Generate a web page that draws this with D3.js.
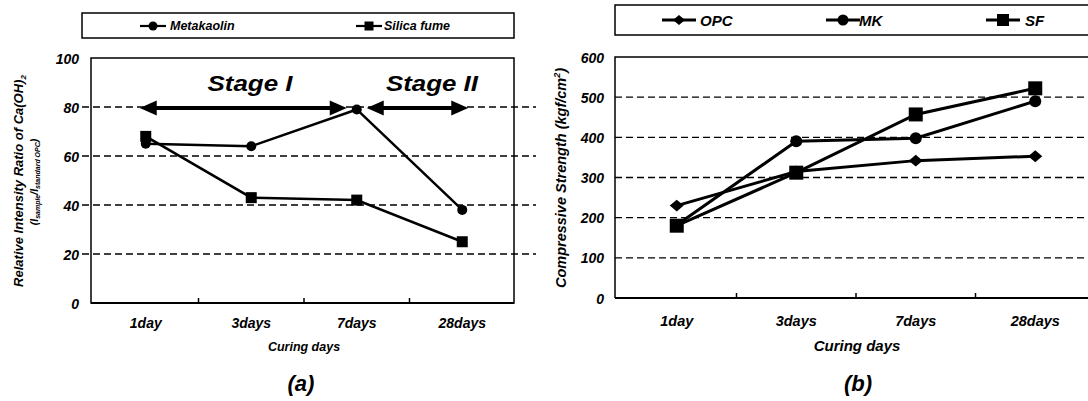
<!DOCTYPE html>
<html>
<head>
<meta charset="utf-8">
<script src="https://cdn.jsdelivr.net/npm/d3@7"></script>
<style>
  html, body { margin: 0; padding: 0; background: #fff; overflow: hidden; }
  svg { display: block; }
  svg text { font-family: "Liberation Sans", Arial, sans-serif; font-weight: bold; font-style: italic; fill: #000; }
</style>
</head>
<body>
<svg id="chart" width="1088" height="401"></svg>
<script>
// ---------- data ----------
const categories = ["1day", "3days", "7days", "28days"];
// panel (a): relative intensity ratio of Ca(OH)2
const metakaolin = [65, 64, 79, 38];
const silicaFume = [68, 43, 42, 25];
const yTicksA = [0, 20, 40, 60, 80, 100];
const gridA = [20, 40, 60, 80];
// panel (b): compressive strength
const opc = [230, 315, 342, 353];
const mk = [182, 390, 398, 490];
const sf = [180, 312, 457, 522];
const yTicksB = [0, 100, 200, 300, 400, 500, 600];
const gridB = [100, 200, 300, 400, 500];
// annotations (panel a)
const stages = [
  { label: "Stage I", from: "1day", to: "7days", y: 80 },
  { label: "Stage II", from: "7days", to: "28days", y: 80 }
];

const svg = d3.select("#chart");
svg.append("rect").attr("width", 1088).attr("height", 401).attr("fill", "#fff");

function marker(g, type, x, y, size) {
  if (type === "circle") {
    g.append("circle").attr("cx", x).attr("cy", y).attr("r", size / 2).attr("fill", "#000");
  } else if (type === "square") {
    g.append("rect").attr("x", x - size / 2).attr("y", y - size / 2).attr("width", size).attr("height", size).attr("fill", "#000");
  } else {
    const h = size / 2;
    g.append("path").attr("d", `M${x - h},${y}L${x},${y - h * 0.85}L${x + h},${y}L${x},${y + h * 0.85}Z`).attr("fill", "#000");
  }
}

// ================= Panel (a) =================
{
  const g = svg.append("g");
  const x = d3.scaleBand().domain(categories).range([93, 515]).padding(0);
  const y = d3.scaleLinear().domain([0, 100]).range([303, 58]);
  const cx = c => x(c) + x.bandwidth() / 2;

  // legend
  g.append("rect").attr("x", 82).attr("y", 13).attr("width", 432).attr("height", 25)
    .attr("fill", "none").attr("stroke", "#000").attr("stroke-width", 1.5);
  const legA = [
    { name: "Metakaolin", type: "circle", size: 9, lx: 153, tx: 170 },
    { name: "Silica fume", type: "square", size: 9, lx: 369, tx: 384 }
  ];
  legA.forEach(l => {
    g.append("line").attr("x1", l.lx - 13).attr("x2", l.lx + 13).attr("y1", 26).attr("y2", 26)
      .attr("stroke", "#000").attr("stroke-width", 2.2);
    marker(g, l.type, l.lx, 26, l.size);
    g.append("text").attr("x", l.tx).attr("y", 30).attr("font-size", 12.5).text(l.name);
  });

  // gridlines
  g.selectAll(".gridA").data(gridA).enter().append("line")
    .attr("x1", 82).attr("x2", 536).attr("y1", d => y(d)).attr("y2", d => y(d))
    .attr("stroke", "#000").attr("stroke-width", 1.3).attr("stroke-dasharray", "7,4");

  // frame
  g.append("rect").attr("x", 91).attr("y", 58).attr("width", 423).attr("height", 245)
    .attr("fill", "none").attr("stroke", "#000").attr("stroke-width", 1.5);
  g.append("line").attr("x1", 91).attr("x2", 514).attr("y1", 303).attr("y2", 303)
    .attr("stroke", "#000").attr("stroke-width", 2.2);
  // category ticks (inside)
  g.selectAll(".tickA").data(categories.slice(1)).enter().append("line")
    .attr("x1", d => x(d)).attr("x2", d => x(d)).attr("y1", 303).attr("y2", 298)
    .attr("stroke", "#000").attr("stroke-width", 1.5);

  // y axis labels
  const ya = g.append("g").attr("transform", "translate(79,0)")
    .call(d3.axisLeft(y).tickValues(yTicksA).tickSize(0).tickPadding(0));
  ya.select(".domain").remove();
  ya.selectAll("text").attr("font-size", 14).attr("font-family", null).attr("dy", "0.36em");

  // x axis labels
  const xa = g.append("g").attr("transform", "translate(0,303)")
    .call(d3.axisBottom(x).tickSize(0).tickPadding(0));
  xa.select(".domain").remove();
  xa.selectAll("text").attr("font-size", 14).attr("font-family", null).attr("dy", 0).attr("y", 25);

  g.append("text").attr("x", 304).attr("y", 351).attr("text-anchor", "middle").attr("font-size", 12.5).text("Curing days");
  g.append("text").attr("x", 301).attr("y", 391).attr("text-anchor", "middle").attr("font-size", 22).text("(a)");

  // y title
  const t1 = g.append("text").attr("transform", "translate(23,181) rotate(-90)").attr("text-anchor", "middle").attr("font-size", 13);
  t1.append("tspan").text("Relative Intensity Ratio of Ca(OH)");
  t1.append("tspan").attr("font-size", 8).attr("dy", 3).text("2");
  const t2 = g.append("text").attr("transform", "translate(38,182) rotate(-90)").attr("text-anchor", "middle").attr("font-size", 10.5);
  t2.append("tspan").text("(I");
  t2.append("tspan").attr("font-size", 7).attr("dy", 2).text("sample");
  t2.append("tspan").attr("dy", -2).text("/I");
  t2.append("tspan").attr("font-size", 7).attr("dy", 2).text("standard OPC");
  t2.append("tspan").attr("dy", -2).text(")");

  // series
  const line = d3.line().x((d, i) => cx(categories[i])).y(d => y(d));
  [[metakaolin, "circle", 10], [silicaFume, "square", 11]].forEach(([vals, type, size]) => {
    g.append("path").datum(vals).attr("d", line).attr("fill", "none").attr("stroke", "#000").attr("stroke-width", 2.5);
    vals.forEach((v, i) => marker(g, type, cx(categories[i]), y(v), size));
  });

  // stage arrows
  const arrow = (x1, x2, yy) => {
    const hl = 17, hh = 7.5;
    g.append("line").attr("x1", x1 + hl - 2).attr("x2", x2 - hl + 2).attr("y1", yy).attr("y2", yy)
      .attr("stroke", "#000").attr("stroke-width", 4);
    g.append("path").attr("d", `M${x1},${yy}L${x1 + hl},${yy - hh}L${x1 + hl},${yy + hh}Z`).attr("fill", "#000");
    g.append("path").attr("d", `M${x2},${yy}L${x2 - hl},${yy - hh}L${x2 - hl},${yy + hh}Z`).attr("fill", "#000");
  };
  stages.forEach((s, k) => {
    const x1 = k === 0 ? cx(s.from) - 6 : cx(s.from) + 10;
    const x2 = k === 0 ? cx(s.to) - 10 : cx(s.to) + 6;
    arrow(x1, x2, y(s.y) + 1);
    const tx = k === 0 ? 250 : 432;
    g.append("text").attr("x", tx).attr("y", 91).attr("text-anchor", "middle").attr("font-size", 22)
      .attr("textLength", k === 0 ? 85 : 92).attr("lengthAdjust", "spacingAndGlyphs").text(s.label);
  });
}

// ================= Panel (b) =================
{
  const g = svg.append("g");
  const x = d3.scaleBand().domain(categories).range([617, 1095]).padding(0);
  const y = d3.scaleLinear().domain([0, 600]).range([298, 57]);
  const cx = c => x(c) + x.bandwidth() / 2;

  // legend (box continues past the right edge of the picture)
  g.append("path").attr("d", "M1100,5H615V35H1100")
    .attr("fill", "none").attr("stroke", "#000").attr("stroke-width", 1.5);
  const legB = [
    { name: "OPC", type: "diamond", size: 12, lx: 679, tx: 700 },
    { name: "MK", type: "circle", size: 11, lx: 843, tx: 859 },
    { name: "SF", type: "square", size: 12, lx: 1003, tx: 1025 }
  ];
  legB.forEach(l => {
    g.append("line").attr("x1", l.lx - 17).attr("x2", l.lx + 17).attr("y1", 20).attr("y2", 20)
      .attr("stroke", "#000").attr("stroke-width", 2.8);
    marker(g, l.type, l.lx, 20, l.size);
    g.append("text").attr("x", l.tx).attr("y", 25.5).attr("font-size", 15).text(l.name);
  });

  // gridlines
  g.selectAll(".gridB").data(gridB).enter().append("line")
    .attr("x1", 615).attr("x2", 1100).attr("y1", d => y(d)).attr("y2", d => y(d))
    .attr("stroke", "#000").attr("stroke-width", 1.3).attr("stroke-dasharray", "7,4");

  // frame (right edge lies outside the picture)
  g.append("path").attr("d", "M1100,57H615V298")
    .attr("fill", "none").attr("stroke", "#000").attr("stroke-width", 1.5);
  g.append("line").attr("x1", 615).attr("x2", 1100).attr("y1", 298).attr("y2", 298)
    .attr("stroke", "#000").attr("stroke-width", 2.2);
  g.selectAll(".tickB").data(categories.slice(1)).enter().append("line")
    .attr("x1", d => x(d)).attr("x2", d => x(d)).attr("y1", 298).attr("y2", 293)
    .attr("stroke", "#000").attr("stroke-width", 1.5);

  const ya = g.append("g").attr("transform", "translate(604,0)")
    .call(d3.axisLeft(y).tickValues(yTicksB).tickSize(0).tickPadding(0));
  ya.select(".domain").remove();
  ya.selectAll("text").attr("font-size", 14).attr("font-family", null).attr("dy", "0.36em");

  const xa = g.append("g").attr("transform", "translate(0,298)")
    .call(d3.axisBottom(x).tickSize(0).tickPadding(0));
  xa.select(".domain").remove();
  xa.selectAll("text").attr("font-size", 14.5).attr("font-family", null).attr("dy", 0).attr("y", 28);

  g.append("text").attr("x", 857).attr("y", 351).attr("text-anchor", "middle").attr("font-size", 15).text("Curing days");
  g.append("text").attr("x", 858).attr("y", 391).attr("text-anchor", "middle").attr("font-size", 22).text("(b)");

  const t = g.append("text").attr("transform", "translate(566,178) rotate(-90)").attr("text-anchor", "middle").attr("font-size", 14.5);
  t.append("tspan").text("Compressive Strength (kgf/cm");
  t.append("tspan").attr("font-size", 9).attr("dy", -6).text("2");
  t.append("tspan").attr("dy", 6).text(")");

  const line = d3.line().x((d, i) => cx(categories[i])).y(d => y(d));
  [[opc, "diamond", 14], [mk, "circle", 12], [sf, "square", 14]].forEach(([vals, type, size]) => {
    g.append("path").datum(vals).attr("d", line).attr("fill", "none").attr("stroke", "#000").attr("stroke-width", 3);
    vals.forEach((v, i) => marker(g, type, cx(categories[i]), y(v), size));
  });
}
</script>
</body>
</html>
